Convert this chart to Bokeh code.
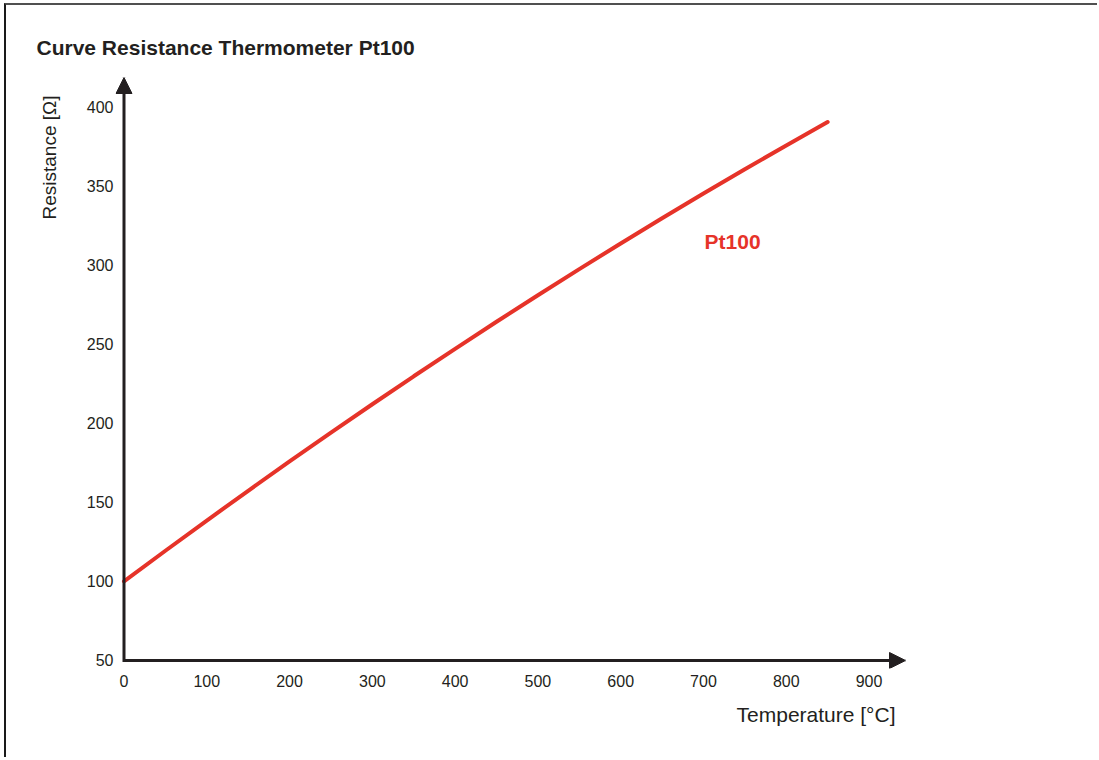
from bokeh.plotting import figure
from bokeh.models import Range1d, Label, Arrow, NormalHead, FixedTicker, Title
from bokeh.embed import file_html
from bokeh.resources import INLINE

# ---- data ----
temperature_c = [0, 50, 100, 150, 200, 250, 300, 350, 400, 450, 500,
                 550, 600, 650, 700, 750, 800, 850]
resistance_ohm = [100.00, 119.40, 138.51, 157.33, 175.86, 194.10, 212.05,
                  229.72, 247.09, 264.18, 280.98, 297.49, 313.71, 329.64,
                  345.28, 360.64, 375.70, 390.48]
x_ticks = [0, 100, 200, 300, 400, 500, 600, 700, 800, 900]
y_ticks = [50, 100, 150, 200, 250, 300, 350, 400]

title_text = "Curve Resistance Thermometer Pt100"
x_title = "Temperature [°C]"
y_title = "Resistance [Ω]"
series_name = "Pt100"

INK = "#231f20"
RED = "#e63329"
FONT = "Liberation Sans"

# axes origin and range ends (ranges reach a little past the axes so arrow heads show)
X_AXIS_AT, Y_AXIS_AT = 0, 50
X0, X1 = -10.27, 944.07
Y0, Y1 = 44.94, 418.66

p = figure(width=1093, height=754, output_backend="svg", toolbar_location=None,
           x_range=Range1d(X0, X1), y_range=Range1d(Y0, Y1),
           min_border_left=109, min_border_right=194,
           min_border_top=72, min_border_bottom=91)
p.styles = {"margin-left": "4px", "margin-top": "3px",
            "border-top": "2px solid #505050", "border-left": "2px solid #1a1a1a"}
p.grid.visible = False
p.outline_line_color = None
p.background_fill_color = "white"
p.border_fill_color = "white"

for ax in (p.xaxis[0], p.yaxis[0]):
    ax.axis_line_color = None
    ax.major_tick_line_color = None
    ax.minor_tick_line_color = None
    ax.major_tick_out = 0
    ax.major_tick_in = 0
    ax.minor_tick_out = 0
    ax.major_label_text_font = FONT
    ax.major_label_text_font_size = "16px"
    ax.major_label_text_color = INK
p.xaxis[0].ticker = FixedTicker(ticks=x_ticks)
p.yaxis[0].ticker = FixedTicker(ticks=y_ticks)
p.xaxis[0].major_label_standoff = 6
p.yaxis[0].major_label_standoff = 2

# axes as arrows
p.add_layout(Arrow(x_start=X_AXIS_AT, y_start=Y_AXIS_AT, x_end=X1, y_end=Y_AXIS_AT,
                   line_width=3, line_color=INK,
                   end=NormalHead(size=16, fill_color=INK, line_color=INK, line_width=1)))
p.add_layout(Arrow(x_start=X_AXIS_AT, y_start=Y_AXIS_AT - 1, x_end=X_AXIS_AT, y_end=Y1,
                   line_width=3, line_color=INK,
                   end=NormalHead(size=16, fill_color=INK, line_color=INK, line_width=1)))

p.line(temperature_c, resistance_ohm, line_color=RED, line_width=4, line_cap="round")

p.add_layout(Label(x=701.3, y=314.96, text=series_name, text_font=FONT,
                   text_font_size="21px", text_font_style="bold",
                   text_color=RED, text_baseline="middle"))

p.add_layout(Title(text=title_text, align="left", offset=-79, standoff=37,
                   text_font=FONT, text_font_size="21px", text_font_style="bold",
                   text_color=INK), "above")
p.add_layout(Title(text=x_title, align="right", offset=10, standoff=27,
                   vertical_align="top",
                   text_font=FONT, text_font_size="21px", text_font_style="normal",
                   text_color=INK), "below")
p.add_layout(Title(text=y_title, align="right", offset=18, standoff=48,
                   vertical_align="bottom",
                   text_font=FONT, text_font_size="19px", text_font_style="normal",
                   text_color=INK), "left")

open("out.html", "w").write(file_html(p, INLINE))
